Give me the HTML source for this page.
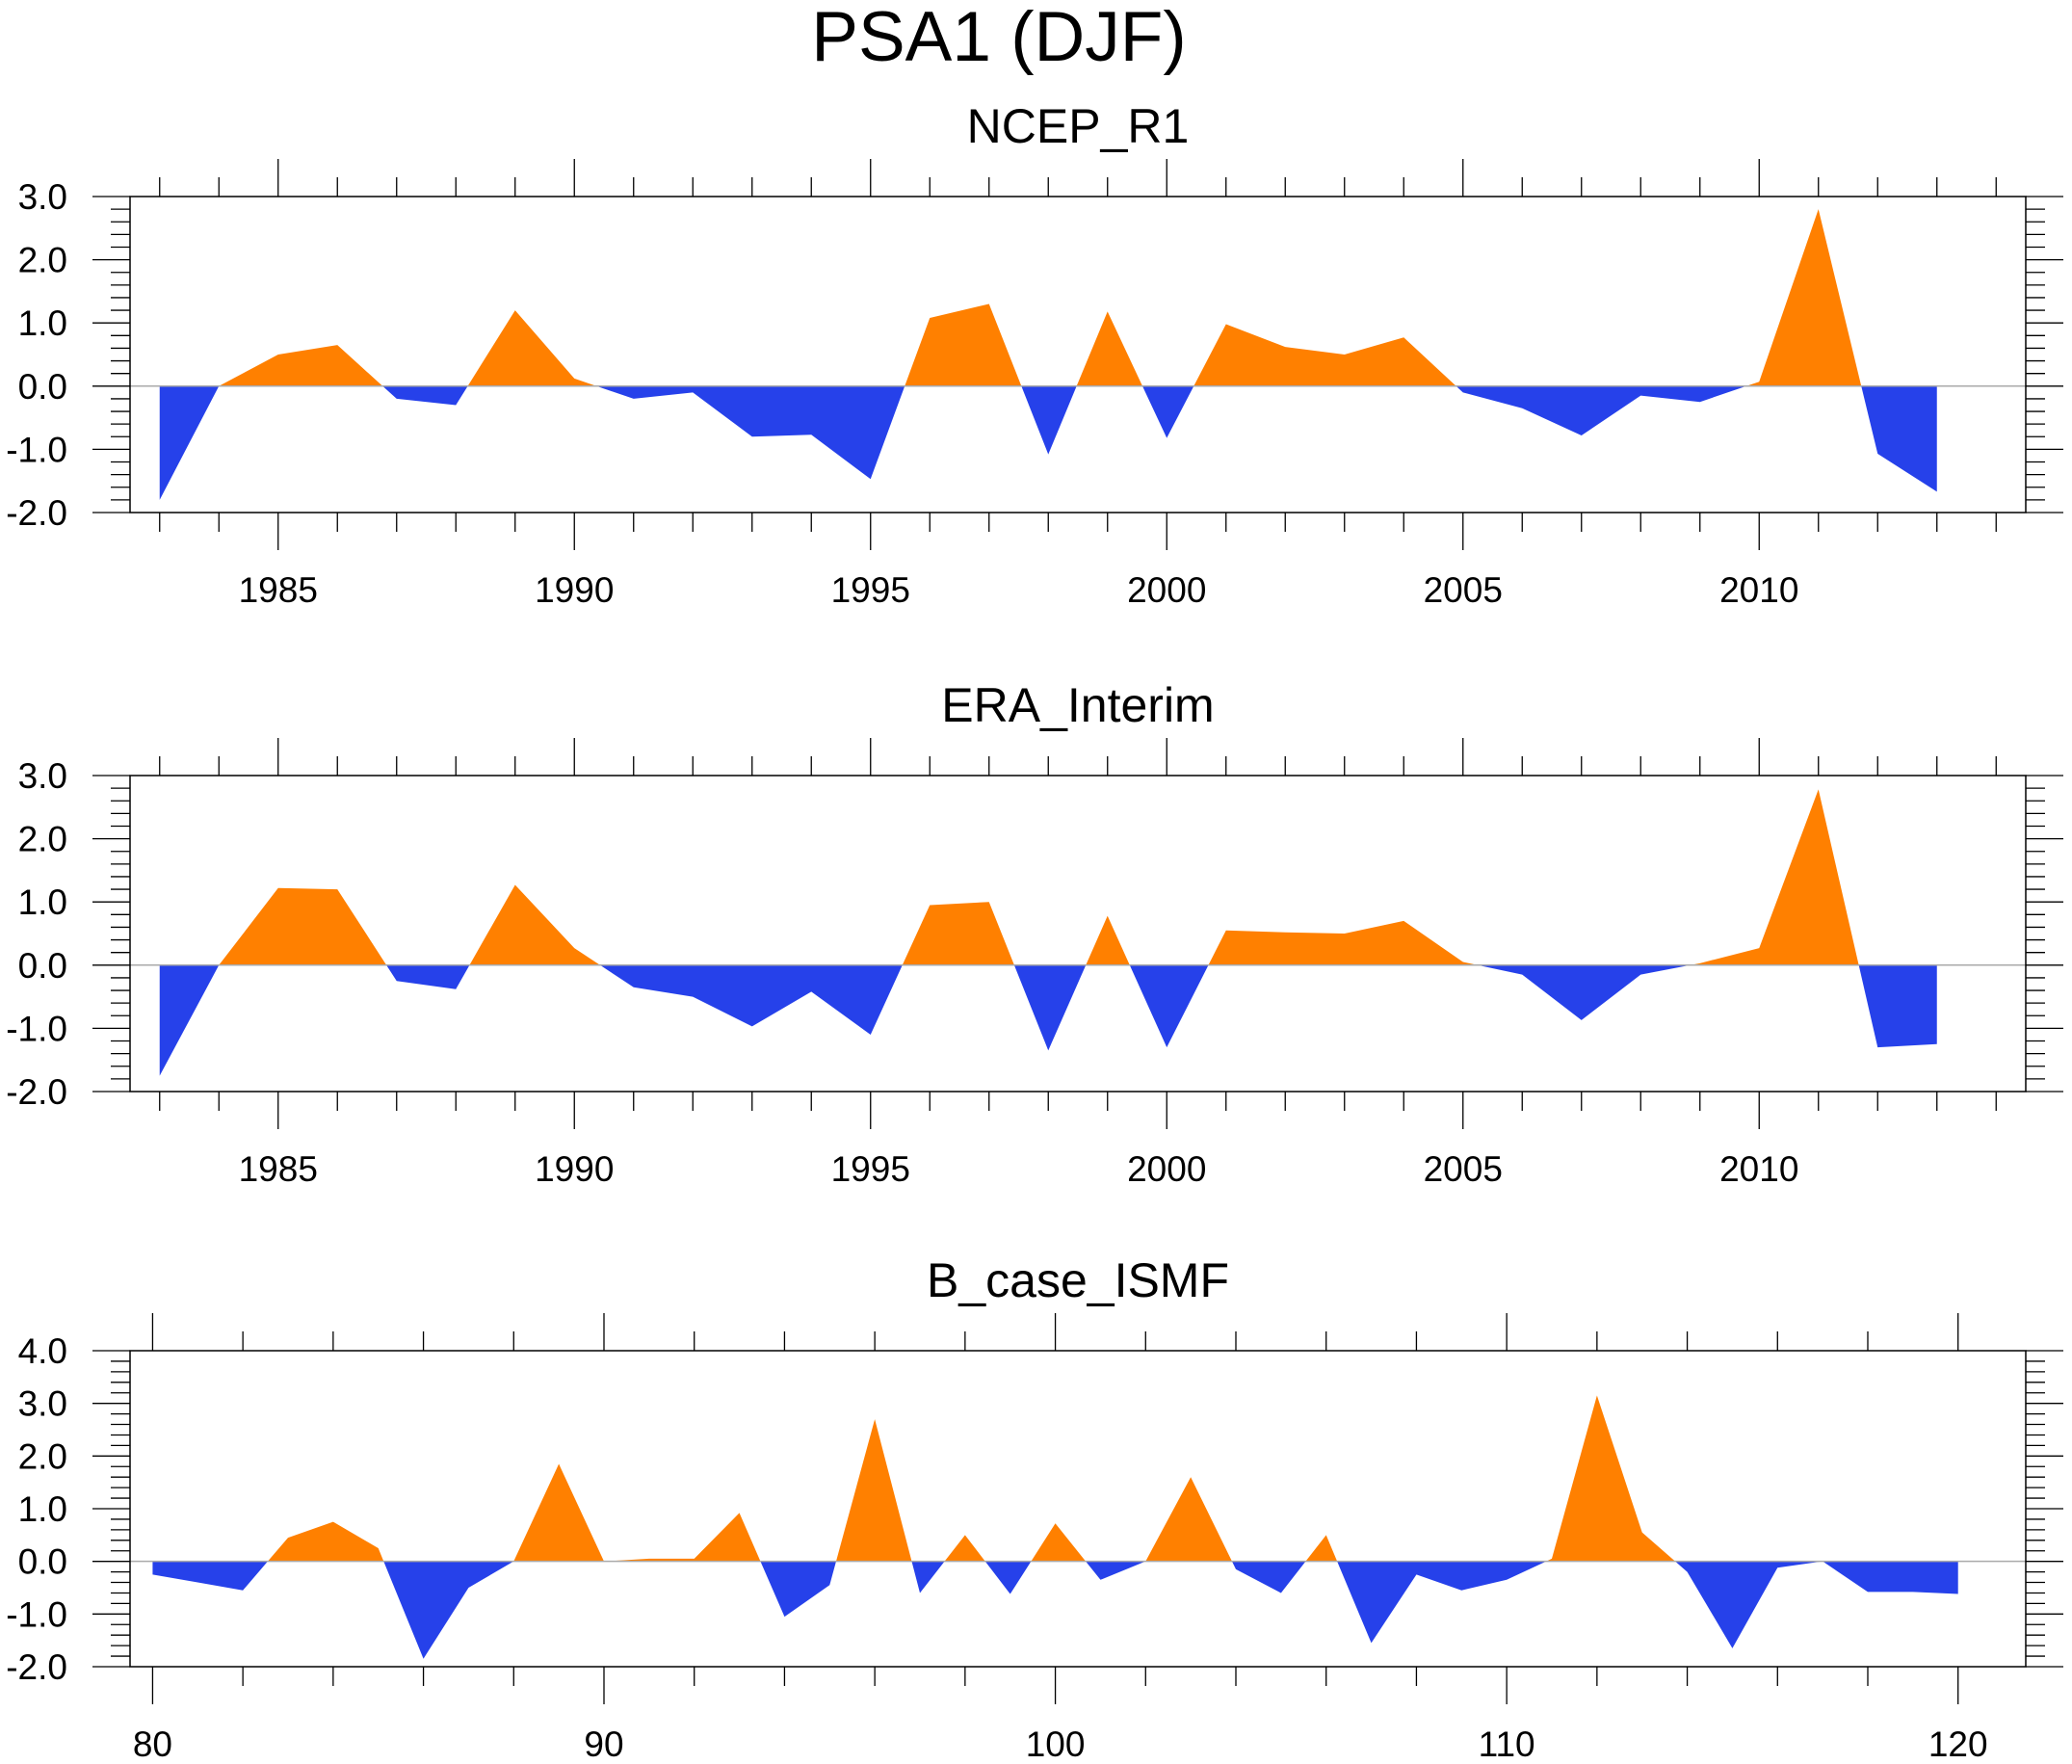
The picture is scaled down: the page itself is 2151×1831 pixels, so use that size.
<!DOCTYPE html>
<html><head><meta charset="utf-8"><style>
html,body{margin:0;padding:0;background:#fff;}
svg{display:block;font-family:"Liberation Sans",sans-serif;}
</style></head><body>
<svg id="chart" width="2151" height="1831" viewBox="0 0 2151 1831" xmlns="http://www.w3.org/2000/svg">
<text x="1037" y="63" font-size="73" text-anchor="middle">PSA1 (DJF)</text>
</svg>
<script>
const years = [1983,1984,1985,1986,1987,1988,1989,1990,1991,1992,1993,1994,1995,1996,1997,1998,1999,2000,2001,2002,2003,2004,2005,2006,2007,2008,2009,2010,2011,2012,2013];
const ncepValues = [-1.8,0.0,0.5,0.65,-0.2,-0.3,1.2,0.12,-0.2,-0.1,-0.8,-0.77,-1.47,1.08,1.3,-1.08,1.18,-0.82,0.98,0.62,0.5,0.77,-0.1,-0.35,-0.78,-0.15,-0.25,0.07,2.8,-1.07,-1.67];
const eraValues = [-1.75,0.0,1.22,1.2,-0.25,-0.38,1.27,0.27,-0.35,-0.5,-0.97,-0.42,-1.1,0.95,1.0,-1.35,0.78,-1.3,0.55,0.52,0.5,0.7,0.05,-0.15,-0.87,-0.15,0.03,0.27,2.78,-1.3,-1.25];
const modelYears = [80,81,82,83,84,85,86,87,88,89,90,91,92,93,94,95,96,97,98,99,100,101,102,103,104,105,106,107,108,109,110,111,112,113,114,115,116,117,118,119,120];
const bcaseValues = [-0.25,-0.4,-0.55,0.45,0.75,0.25,-1.85,-0.5,0.0,1.85,0.0,0.05,0.05,0.92,-1.05,-0.45,2.7,-0.6,0.5,-0.62,0.72,-0.35,0.0,1.6,-0.15,-0.6,0.5,-1.55,-0.25,-0.55,-0.35,0.05,3.15,0.55,-0.2,-1.65,-0.12,0.0,-0.58,-0.58,-0.62];
const yearTickLabels = ["1985","1990","1995","2000","2005","2010"];
const modelTickLabels = ["80","90","100","110","120"];
const yTicks12 = ["-2.0","-1.0","0.0","1.0","2.0","3.0"];
const yTicks3 = ["-2.0","-1.0","0.0","1.0","2.0","3.0","4.0"];

const NS="http://www.w3.org/2000/svg";
const svg=document.getElementById('chart');
function mk(tag,attrs,parent){const e=document.createElementNS(NS,tag);for(const k in attrs)e.setAttribute(k,attrs[k]);(parent||svg).appendChild(e);return e;}

const X0=135,X1=2103;
function panel(id,title,top,xs,ys,xmin,xmax,ymin,ymax,majorStep,minorStep,xLabels,yLabels){
  const bot=top+328;
  const g=mk('g',{});
  
  
  const sx=v=>X0+(v-xmin)/(xmax-xmin)*(X1-X0);
  const sy=v=>bot-(v-ymin)/(ymax-ymin)*(bot-top);
  const t=mk('text',{x:(X0+X1)/2,y:top-56,'font-size':50,'text-anchor':'middle'},g);
  t.textContent=title;
  
  
  let d='M'+sx(xs[0])+','+sy(0);
  xs.forEach((x,i)=>{d+=' L'+sx(x)+','+sy(ys[i]);});
  d+=' L'+sx(xs[xs.length-1])+','+sy(0)+' Z';
  const cp=mk('clipPath',{id:id+'-pos'},g);mk('rect',{x:0,y:0,width:2151,height:sy(0)},cp);
  const cn=mk('clipPath',{id:id+'-neg'},g);mk('rect',{x:0,y:sy(0),width:2151,height:1831},cn);
  const pa=mk('path',{d:d,fill:'#FF8000','clip-path':'url(#'+id+'-pos)'},g);
  
  
  const na=mk('path',{d:d,fill:'#2641EA','clip-path':'url(#'+id+'-neg)'},g);
  
  
  mk('line',{x1:X0,x2:X1,y1:sy(0),y2:sy(0),stroke:'#aaa','stroke-width':1.5},g);
  const b=mk('rect',{x:X0,y:top,width:X1-X0,height:bot-top,fill:'none',stroke:'#000','stroke-width':1.5},g);
  
  
  const start=Math.ceil(xmin/minorStep)*minorStep;
  for(let v=start;v<=xmax;v+=minorStep){
    const major=Math.abs(v/majorStep-Math.round(v/majorStep))<1e-6;
    const L=major?39:20,x=sx(v);
    mk('line',{x1:x,x2:x,y1:top-L,y2:top,stroke:'#000','stroke-width':1.3},g);
    mk('line',{x1:x,x2:x,y1:bot,y2:bot+L,stroke:'#000','stroke-width':1.3},g);
  }
  xLabels.forEach(s=>{
    const e=mk('text',{x:sx(+s),y:bot+93,'font-size':37,'text-anchor':'middle'},g);
    e.textContent=s;
    
    
  });
  for(let v=ymin;v<=ymax+1e-6;v+=0.2){
    const major=Math.abs(v-Math.round(v))<1e-6;
    const L=major?39:20,y=sy(v);
    mk('line',{x1:X0-L,x2:X0,y1:y,y2:y,stroke:'#000','stroke-width':1.3},g);
    mk('line',{x1:X1,x2:X1+L,y1:y,y2:y,stroke:'#000','stroke-width':1.3},g);
  }
  yLabels.forEach(s=>{
    const e=mk('text',{x:70,y:sy(+s)+13,'font-size':37,'text-anchor':'end'},g);
    e.textContent=s;
    
    
  });
}
panel('ncep-r1','NCEP_R1',204,years,ncepValues,1982.5,2014.5,-2,3,5,1,yearTickLabels,yTicks12);
panel('era-interim','ERA_Interim',805,years,eraValues,1982.5,2014.5,-2,3,5,1,yearTickLabels,yTicks12);
panel('b-case-ismf','B_case_ISMF',1402,modelYears,bcaseValues,79.5,121.5,-2,4,10,2,modelTickLabels,yTicks3);
</script>
</body></html>
